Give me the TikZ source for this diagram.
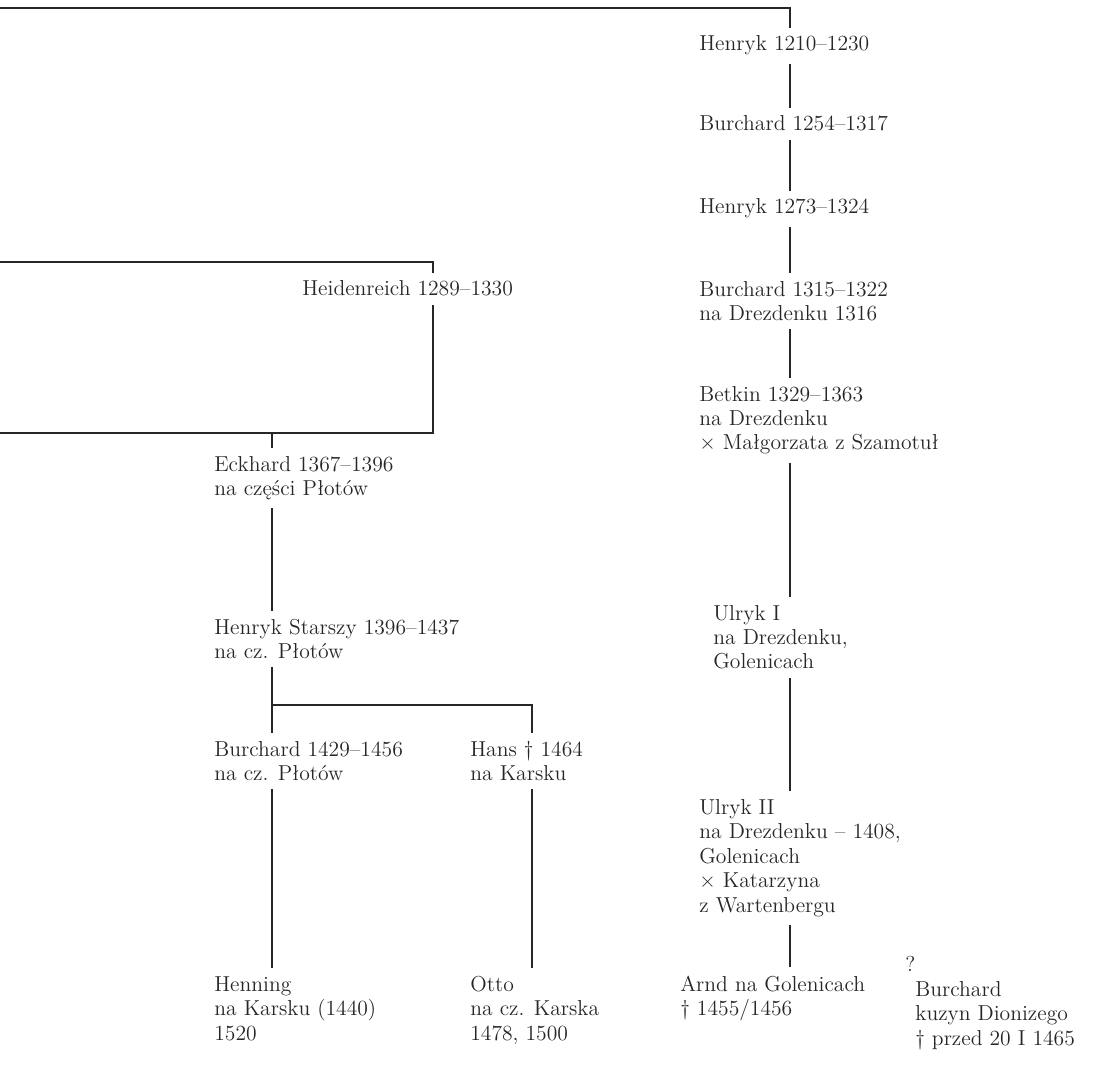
\documentclass[tikz,border=0pt]{standalone}
\usepackage{fontspec}
\definecolor{inkgray}{HTML}{262626}
\tikzset{
  person/.style={anchor=base west, align=left, inner xsep=0pt, inner ysep=4.5pt,
    font=\fontsize{12.3}{13.9}\selectfont, text=inkgray},
  kin/.style={draw=inkgray, line width=0.6pt},
}

\begin{document}
\begin{tikzpicture}
    \useasboundingbox (0,0) rectangle (22.02,-21.46);

    % axes of the three lines
    \coordinate (rx) at (15.8,0);
    \coordinate (lx) at (5.44,0);
    \coordinate (mx) at (10.64,0);
    \coordinate (hx) at (8.66,0);
    \coordinate (topL) at (0,-0.16);
    \coordinate (brTop) at (0,-5.24);
    \coordinate (brBot) at (0,-8.66);
    \coordinate (fork) at (5.44,-14.1);

    % right line (base = last line of a node)
    \node[person] (h1) at (13.98,-1.02) {Henryk 1210--1230};
    \node[person] (b1) at (13.98,-2.62) {Burchard 1254--1317};
    \node[person] (h2) at (13.98,-4.28) {Henryk 1273--1324};
    \node[person] (b3) at (13.98,-6.41) {Burchard 1315--1322\\na Drezdenku 1316};
    \node[person] (bet) at (13.98,-9.0)
      {Betkin 1329--1363\\na Drezdenku\\× Małgorzata z Szamotuł};
    \node[person] (u1) at (14.26,-13.38) {Ulryk I\\na Drezdenku,\\Golenicach};
    \node[person] (u2) at (13.98,-18.24)
      {Ulryk II\\na Drezdenku -- 1408,\\Golenicach\\× Katarzyna\\z Wartenbergu};
    \node[person] (arnd) at (13.6,-20.31) {Arnd na Golenicach\\† 1455/1456};
    \node[person] (qm) at (18.1,-19.42) {?};
    \node[person] (bur) at (18.3,-20.9)
      {Burchard\\kuzyn Dionizego\\† przed 20 I 1465};

    % left line
    \node[person] (heid) at (6.04,-5.92) {Heidenreich 1289--1330};
    \node[person] (eck) at (4.28,-9.91) {Eckhard 1367--1396\\na części Płotów};
    \node[person] (hs) at (4.28,-13.17) {Henryk Starszy 1396--1437\\na cz. Płotów};
    \node[person] (b4) at (4.28,-15.61) {Burchard 1429--1456\\na cz. Płotów};
    \node[person] (hans) at (9.4,-15.61) {Hans † 1464\\na Karsku};
    \node[person] (hen) at (4.28,-20.8) {Henning\\na Karsku (1440)\\1520};
    \node[person] (otto) at (9.4,-20.8) {Otto\\na cz. Karska\\1478, 1500};

    % connectors
    \draw[kin] (topL) -| (rx |- h1.north);
    \draw[kin] (rx |- h1.south) -- (rx |- b1.north);
    \draw[kin] (rx |- b1.south) -- (rx |- h2.north);
    \draw[kin] (rx |- h2.south) -- (rx |- b3.north);
    \draw[kin] (rx |- b3.south) -- (rx |- bet.north);
    \draw[kin] (rx |- bet.south) -- (rx |- u1.north);
    \draw[kin] (rx |- u1.south) -- (rx |- u2.north);
    \draw[kin] (rx |- u2.south) -- (rx |- arnd.north);

    \draw[kin] (brTop) -| (hx |- heid.north);
    \draw[kin] (hx |- heid.south) |- (brBot);
    \draw[kin] (lx |- brBot) -- (lx |- eck.north);
    \draw[kin] (lx |- eck.south) -- (lx |- hs.north);
    \draw[kin] (lx |- hs.south) -- (lx |- b4.north);
    \draw[kin] (fork) -| (mx |- hans.north);
    \draw[kin] (lx |- b4.south) -- (lx |- hen.north);
    \draw[kin] (mx |- hans.south) -- (mx |- otto.north);
\end{tikzpicture}
\end{document}
